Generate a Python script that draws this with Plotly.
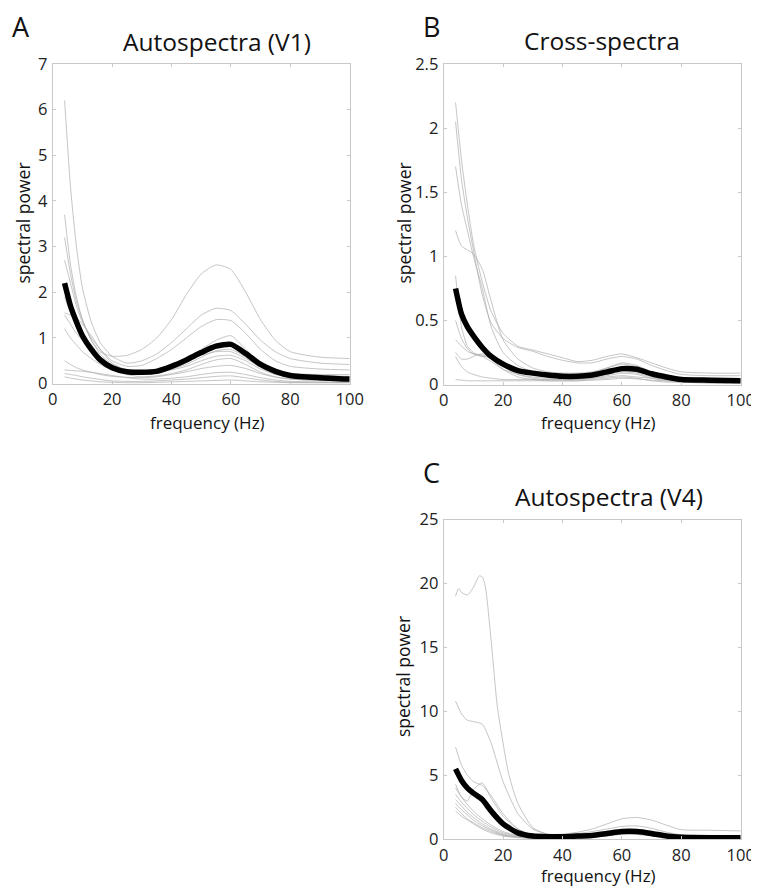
import plotly.graph_objects as go

# frequency grid (Hz) the curves were read at
freq = [4, 6, 8, 10, 13, 16, 20, 25, 30, 35, 40, 45, 50, 55, 60, 65, 70, 75, 80, 90, 100]

# A: autospectra V1
v1_mean = [2.2, 1.7, 1.35, 1.05, 0.75, 0.52, 0.35, 0.26, 0.25, 0.27, 0.38, 0.52, 0.68, 0.82, 0.86, 0.66, 0.42, 0.27, 0.18, 0.13, 0.1]
v1_sites = [
    [3.7, 2.6, 1.9, 1.4, 0.95, 0.7, 0.6, 0.62, 0.75, 1.0, 1.4, 1.95, 2.4, 2.6, 2.5, 2.0, 1.4, 0.95, 0.7, 0.58, 0.55],
    [6.2, 4.3, 3.0, 2.1, 1.35, 0.9, 0.6, 0.45, 0.5, 0.65, 0.9, 1.2, 1.5, 1.65, 1.6, 1.3, 0.95, 0.7, 0.55, 0.45, 0.42],
    [2.7, 2.2, 1.7, 1.35, 1.0, 0.75, 0.5, 0.38, 0.4, 0.55, 0.75, 1.0, 1.25, 1.4, 1.38, 1.1, 0.75, 0.5, 0.38, 0.32, 0.3],
    [1.5, 1.3, 1.1, 0.95, 0.75, 0.55, 0.4, 0.3, 0.28, 0.32, 0.42, 0.55, 0.75, 0.95, 1.05, 0.75, 0.45, 0.3, 0.22, 0.18, 0.16],
    [1.9, 1.55, 1.3, 1.1, 0.85, 0.6, 0.4, 0.28, 0.22, 0.25, 0.32, 0.42, 0.58, 0.72, 0.75, 0.58, 0.35, 0.22, 0.15, 0.1, 0.08],
    [1.2, 1.0, 0.85, 0.7, 0.55, 0.42, 0.3, 0.2, 0.15, 0.17, 0.22, 0.3, 0.42, 0.52, 0.55, 0.42, 0.25, 0.15, 0.1, 0.07, 0.06],
    [0.5, 0.42, 0.35, 0.3, 0.25, 0.2, 0.16, 0.14, 0.13, 0.15, 0.2, 0.26, 0.33, 0.38, 0.4, 0.33, 0.22, 0.14, 0.1, 0.07, 0.06],
    [0.3, 0.29, 0.28, 0.27, 0.25, 0.22, 0.18, 0.13, 0.1, 0.1, 0.12, 0.15, 0.2, 0.24, 0.25, 0.2, 0.13, 0.08, 0.05, 0.04, 0.03],
    [0.22, 0.2, 0.18, 0.15, 0.12, 0.09, 0.06, 0.05, 0.05, 0.06, 0.08, 0.1, 0.13, 0.16, 0.17, 0.13, 0.08, 0.05, 0.03, 0.02, 0.02],
    [0.15, 0.12, 0.1, 0.08, 0.06, 0.04, 0.03, 0.02, 0.02, 0.03, 0.04, 0.05, 0.06, 0.07, 0.08, 0.06, 0.04, 0.03, 0.02, 0.02, 0.02],
    [3.2, 2.4, 1.8, 1.4, 0.95, 0.65, 0.42, 0.3, 0.27, 0.3, 0.38, 0.5, 0.62, 0.7, 0.7, 0.55, 0.38, 0.27, 0.22, 0.2, 0.2],
    [1.55, 1.5, 1.45, 1.3, 1.05, 0.75, 0.45, 0.3, 0.25, 0.25, 0.3, 0.38, 0.5, 0.6, 0.62, 0.5, 0.32, 0.2, 0.14, 0.1, 0.08],
]

# B: cross-spectra
cross_mean = [0.75, 0.55, 0.45, 0.38, 0.29, 0.22, 0.16, 0.11, 0.09, 0.075, 0.065, 0.065, 0.075, 0.1, 0.125, 0.12, 0.085, 0.06, 0.04, 0.035, 0.03]
cross_pairs = [
    [2.2, 1.75, 1.4, 1.1, 0.8, 0.57, 0.4, 0.3, 0.27, 0.24, 0.21, 0.18, 0.19, 0.22, 0.24, 0.21, 0.17, 0.13, 0.1, 0.09, 0.09],
    [2.05, 1.6, 1.3, 1.05, 0.7, 0.48, 0.36, 0.29, 0.26, 0.22, 0.19, 0.17, 0.17, 0.2, 0.22, 0.2, 0.15, 0.11, 0.08, 0.07, 0.07],
    [1.7, 1.4, 1.2, 1.0, 0.75, 0.45, 0.25, 0.15, 0.1, 0.08, 0.07, 0.07, 0.09, 0.13, 0.17, 0.15, 0.1, 0.07, 0.05, 0.04, 0.04],
    [1.2, 1.08, 1.05, 1.02, 0.9, 0.65, 0.35, 0.2, 0.13, 0.1, 0.09, 0.09, 0.1, 0.13, 0.16, 0.14, 0.1, 0.07, 0.05, 0.04, 0.04],
    [0.85, 0.45, 0.3, 0.25, 0.22, 0.18, 0.12, 0.08, 0.06, 0.05, 0.05, 0.05, 0.06, 0.08, 0.1, 0.09, 0.06, 0.04, 0.03, 0.02, 0.02],
    [0.35, 0.3, 0.26, 0.24, 0.23, 0.2, 0.14, 0.08, 0.05, 0.04, 0.04, 0.04, 0.05, 0.07, 0.09, 0.08, 0.05, 0.03, 0.02, 0.02, 0.02],
    [0.25, 0.2, 0.2, 0.22, 0.24, 0.2, 0.12, 0.06, 0.04, 0.03, 0.03, 0.03, 0.04, 0.05, 0.06, 0.05, 0.03, 0.02, 0.02, 0.01, 0.01],
    [0.22, 0.14, 0.1, 0.08, 0.06, 0.05, 0.04, 0.04, 0.04, 0.04, 0.04, 0.04, 0.05, 0.06, 0.07, 0.06, 0.05, 0.04, 0.03, 0.03, 0.03],
    [0.04, 0.035, 0.03, 0.03, 0.03, 0.03, 0.03, 0.03, 0.03, 0.03, 0.03, 0.03, 0.035, 0.04, 0.05, 0.045, 0.035, 0.03, 0.03, 0.03, 0.03],
    [0.5, 0.36, 0.28, 0.24, 0.22, 0.22, 0.18, 0.12, 0.08, 0.06, 0.05, 0.05, 0.06, 0.08, 0.11, 0.1, 0.07, 0.05, 0.04, 0.03, 0.03],
]

# C: autospectra V4
v4_mean = [5.5, 4.6, 4.0, 3.6, 3.1, 2.2, 1.2, 0.5, 0.25, 0.2, 0.2, 0.25, 0.3, 0.45, 0.6, 0.6, 0.45, 0.25, 0.15, 0.12, 0.12]
v4_sites = [
    [10.8, 9.8, 9.3, 9.2, 9.0, 7.5, 4.5, 2.0, 0.8, 0.4, 0.35, 0.45, 0.6, 0.8, 1.0, 1.05, 0.85, 0.55, 0.35, 0.3, 0.3],
    [7.2, 5.8, 5.0, 4.5, 4.2, 3.4, 2.0, 0.8, 0.35, 0.25, 0.25, 0.3, 0.4, 0.55, 0.75, 0.75, 0.55, 0.3, 0.2, 0.15, 0.15],
    [4.3, 3.3, 3.0, 3.9, 4.4, 3.2, 1.8, 0.8, 0.3, 0.2, 0.2, 0.25, 0.35, 0.5, 0.65, 0.65, 0.5, 0.28, 0.15, 0.12, 0.12],
    [4.0, 3.3, 2.7, 2.2, 1.6, 1.1, 0.6, 0.3, 0.18, 0.15, 0.15, 0.2, 0.3, 0.45, 0.6, 0.6, 0.45, 0.25, 0.12, 0.1, 0.1],
    [3.5, 2.9, 2.4, 1.95, 1.4, 0.95, 0.5, 0.25, 0.15, 0.12, 0.12, 0.17, 0.25, 0.4, 0.55, 0.55, 0.4, 0.2, 0.1, 0.08, 0.08],
    [3.1, 2.6, 2.1, 1.7, 1.2, 0.8, 0.4, 0.2, 0.12, 0.1, 0.1, 0.15, 0.22, 0.35, 0.5, 0.5, 0.35, 0.18, 0.08, 0.06, 0.06],
    [2.8, 2.3, 1.9, 1.5, 1.05, 0.7, 0.35, 0.18, 0.1, 0.08, 0.08, 0.12, 0.2, 0.32, 0.45, 0.45, 0.3, 0.15, 0.07, 0.05, 0.05],
    [2.5, 2.0, 1.6, 1.3, 0.9, 0.6, 0.3, 0.15, 0.08, 0.06, 0.06, 0.1, 0.18, 0.3, 0.42, 0.42, 0.28, 0.13, 0.06, 0.05, 0.05],
    [2.2, 1.8, 1.5, 1.2, 0.8, 0.5, 0.25, 0.12, 0.07, 0.05, 0.05, 0.08, 0.15, 0.25, 0.38, 0.38, 0.25, 0.12, 0.05, 0.04, 0.04],
]
# the one very large V4 site has its own (finer) frequency grid
v4_big_freq = [4, 5, 6, 8, 10, 12, 13, 14, 16, 18, 20, 22, 25, 30, 35, 40, 45, 50, 55, 60, 65, 70, 75, 80, 90, 100]
v4_big = [19.0, 19.6, 19.3, 19.1, 19.7, 20.6, 20.5, 19.8, 15.5, 10.5, 7.5, 5.0, 2.8, 0.9, 0.4, 0.4, 0.55, 0.8, 1.2, 1.6, 1.7, 1.5, 1.1, 0.75, 0.7, 0.65]

FONT = "Open Sans"
GRAY = "#acacac"
FRAME = "#c8c8c8"
TXT = "#222"

fig = go.Figure()


def thin(x, y, xa, ya):
    return go.Scatter(x=x, y=y, mode="lines", xaxis=xa, yaxis=ya,
                      line=dict(color=GRAY, width=0.7, shape="spline", smoothing=0.6),
                      showlegend=False, hoverinfo="skip")


def add_panel(xa, ya, sites, mean, extra=None):
    for s in sites:
        fig.add_trace(thin(freq, s, xa, ya))
    if extra:
        fig.add_trace(thin(extra[0], extra[1], xa, ya))
    fig.add_trace(go.Scatter(x=freq, y=mean, mode="lines", xaxis=xa, yaxis=ya,
                             line=dict(color="black", width=5.5, shape="spline", smoothing=0.6),
                             showlegend=False))


add_panel("x", "y", v1_sites, v1_mean)
add_panel("x2", "y2", cross_pairs, cross_mean)
add_panel("x3", "y3", v4_sites, v4_mean, extra=(v4_big_freq, v4_big))

W, H = 759, 888
# the photographed page shows the figure slightly shrunk and shifted;
# positions below are target pixels in the photo, converted back here
S, OX, OY = 0.975, 12.3, 18.0


def px_x(p):
    return (p - OX) / S / W


def px_y(p):
    return 1 - (p - OY) / S / H


tickfont = dict(family=FONT, size=16.5, color=TXT)
common_x = dict(range=[0, 100], tickvals=[0, 20, 40, 60, 80, 100], showgrid=False, zeroline=False,
                showline=True, linecolor=FRAME, linewidth=1, mirror="ticks", ticks="inside",
                ticklen=3, tickcolor=FRAME, tickfont=tickfont, ticklabelstandoff=1)
common_y = dict(showgrid=False, zeroline=False, showline=True, linecolor=FRAME, linewidth=1,
                mirror="ticks", ticks="inside", ticklen=3, tickcolor=FRAME, tickfont=tickfont,
                ticklabelstandoff=1)

fig.update_layout(
    width=W, height=H, margin=dict(l=0, r=0, t=0, b=0),
    plot_bgcolor="white", paper_bgcolor="white",
    xaxis=dict(common_x, domain=[px_x(52), px_x(349)], anchor="y"),
    yaxis=dict(common_y, domain=[px_y(382), px_y(62)], range=[0, 7], dtick=1, anchor="x"),
    xaxis2=dict(common_x, domain=[px_x(443), px_x(740)], anchor="y2"),
    yaxis2=dict(common_y, domain=[px_y(383), px_y(62)], range=[0, 2.5], dtick=0.5, anchor="x2"),
    xaxis3=dict(common_x, domain=[px_x(443), px_x(740)], anchor="y3"),
    yaxis3=dict(common_y, domain=[px_y(838), px_y(518)], range=[0, 25], dtick=5, anchor="x3"),
)

txt = [
    ("A", 20, 25, 27, 0), ("B", 431, 25, 27, 0), ("C", 431, 471, 27, 0),
    ("Autospectra (V1)", 216, 40, 24.5, 0), ("Cross-spectra", 601, 39, 24.5, 0),
    ("Autospectra (V4)", 608, 495, 24.5, 0),
    ("frequency (Hz)", 207, 421, 17, 0), ("frequency (Hz)", 598, 421, 17, 0),
    ("frequency (Hz)", 598, 874, 17, 0),
    ("spectral power", 22, 221, 17.5, -90), ("spectral power", 403, 221, 17.5, -90),
    ("spectral power", 403, 675, 17.5, -90),
]
for t, x, y, s, ang in txt:
    fig.add_annotation(text=t, x=px_x(x), y=px_y(y), xref="paper", yref="paper",
                       showarrow=False, textangle=ang, xanchor="center", yanchor="middle",
                       font=dict(family=FONT, size=s, color="#111"))

fig.write_html("out.html")
